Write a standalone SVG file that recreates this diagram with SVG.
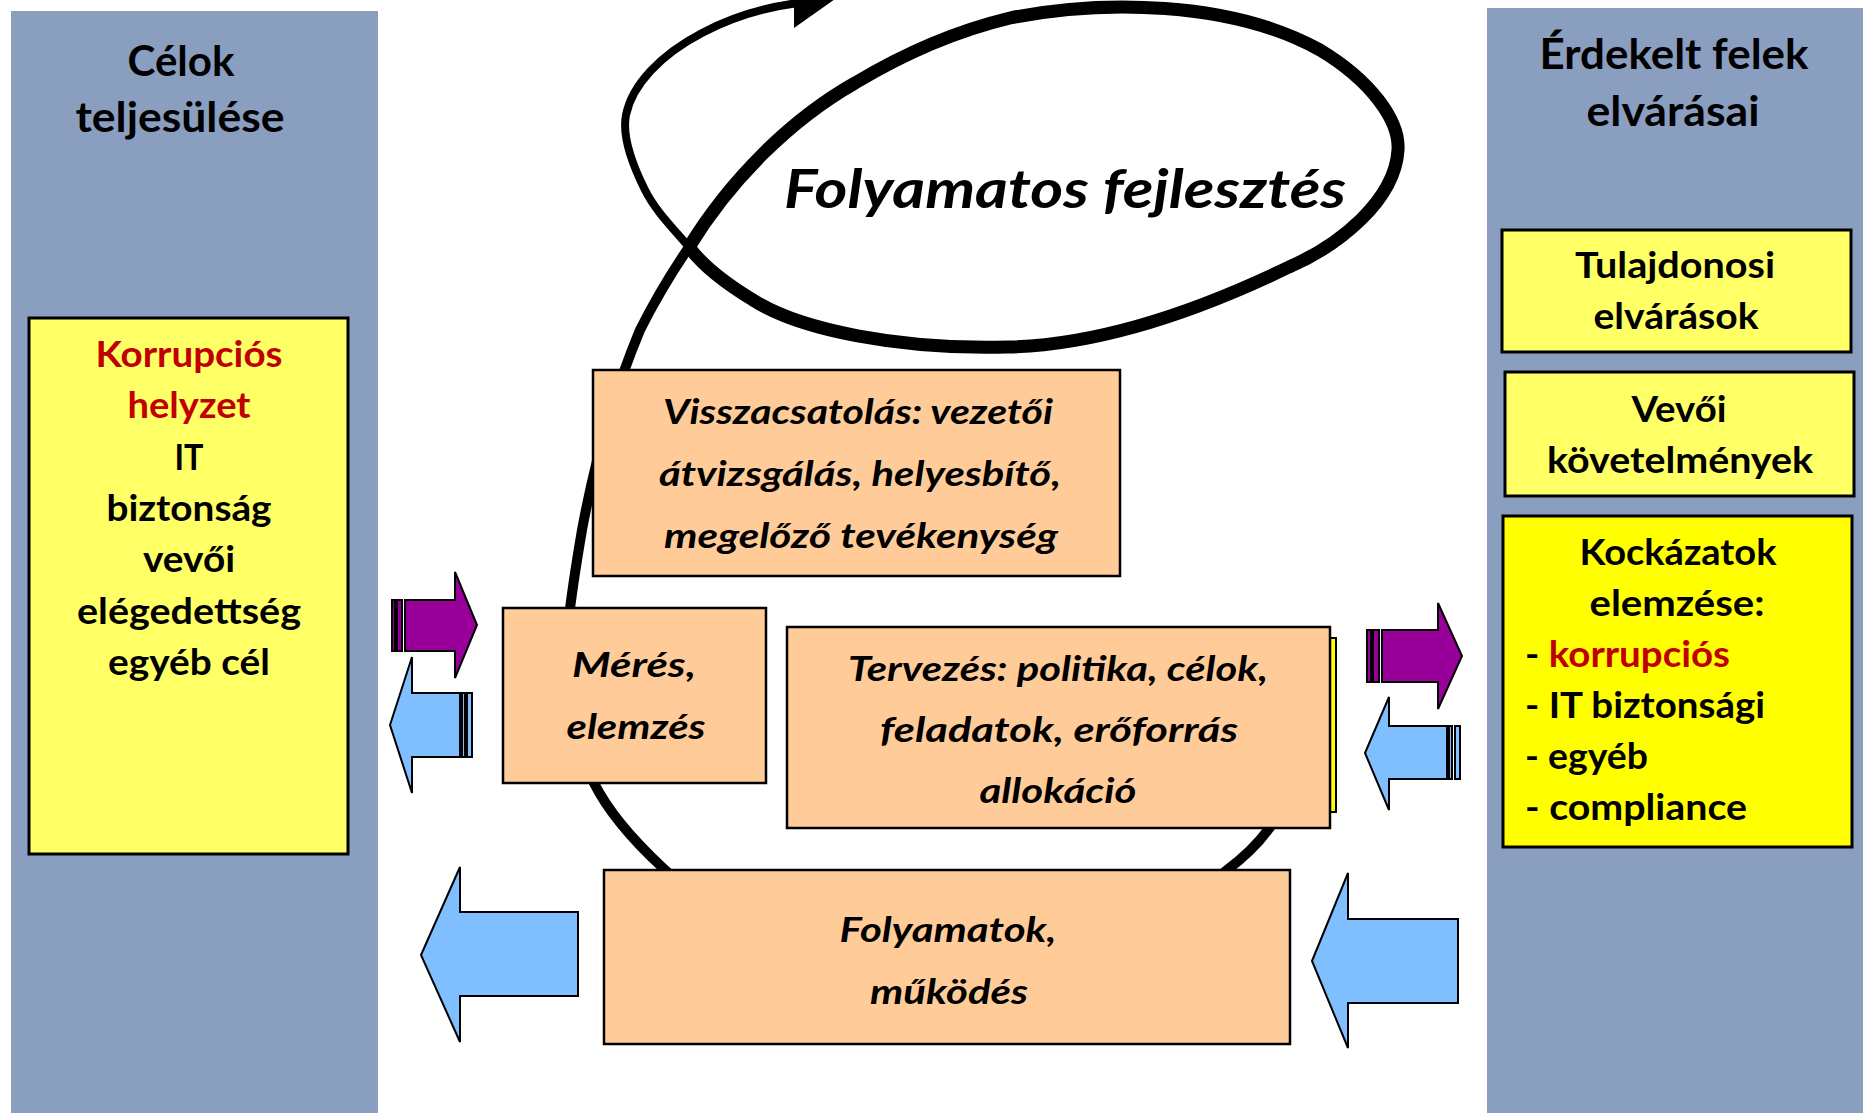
<svg xmlns="http://www.w3.org/2000/svg" width="1863" height="1113" viewBox="0 0 1863 1113">
<style>
.panel{fill:#8A9EC0}
.ybox{fill:#FFFF66;stroke:#000;stroke-width:3}
.ybox2{fill:#FFFF00;stroke:#000;stroke-width:3}
.pbox{fill:#FFCC99;stroke:#000;stroke-width:2.5}
.t{font-family:Lato,'Noto Sans','Liberation Sans',sans-serif;font-weight:700;fill:#000}
.big{font-size:42px}
.body{font-size:37px}
.it{font-style:italic;font-size:35px}
.title{font-style:italic;font-size:54px}
.red{fill:#C00000}
.purple{fill:#990099;stroke:#000;stroke-width:2}
.blue{fill:#80BFFF;stroke:#000;stroke-width:2}
.loop{fill:none;stroke:#000}
</style>
<rect width="1863" height="1113" fill="#fff"/>

<g id="panel-left">
<rect class="panel" x="11" y="11" width="367" height="1102"/>
<text class="t big" x="181" y="76" text-anchor="middle" textLength="107" lengthAdjust="spacingAndGlyphs">Célok</text>
<text class="t big" x="180" y="132" text-anchor="middle" textLength="209" lengthAdjust="spacingAndGlyphs">teljesülése</text>
</g>

<g id="panel-right">
<rect class="panel" x="1487" y="8" width="376" height="1105"/>
<text class="t big" x="1674" y="69" text-anchor="middle" textLength="269" lengthAdjust="spacingAndGlyphs">Érdekelt felek</text>
<text class="t big" x="1673" y="126" text-anchor="middle" textLength="173" lengthAdjust="spacingAndGlyphs">elvárásai</text>
</g>

<g id="connectors">
<path class="loop" stroke-width="10" d="M1306,745 C1298,785 1288,805 1268,830 C1256,846 1243,858 1227,870 C1100,990 790,990 663,868 C636,843 610,815 594,783 C572,740 563,680 568,625 C572,590 576,565 582,530 C595,460 615,390 640,330 C655,300 670,275 689,247"/>
<path class="loop" stroke-width="13" d="M689,247 C730,180 790,120 855,83 C910,50 960,30 1010,18 C1100,0 1230,0 1320,50 C1370,80 1400,120 1398,150 C1395,200 1340,245 1289,267 C1200,310 1100,345 1008,347 C900,350 800,330 753,300 C720,280 700,262 689,247"/>
<path class="loop" stroke-width="8" d="M689,247 C670,225 655,210 645,190 C630,160 622,135 626,115 C632,85 660,55 702,33 C730,18 760,8 798,3"/>
<polygon points="794,-20 794,28 845,-8" fill="#000"/>

<g id="arrow-left-purple">
<rect class="purple" x="392" y="600" width="3" height="51"/>
<rect class="purple" x="397" y="600" width="5" height="51"/>
<polygon class="purple" points="405,600 455,600 455,572 477,625 455,678 455,651 405,651"/>
</g>
<g id="arrow-left-blue">
<polygon class="blue" points="390,725 412,657 412,693 460,693 460,757 412,757 412,793"/>
<rect class="blue" x="462" y="693" width="3" height="64"/>
<rect class="blue" x="467" y="693" width="5" height="64"/>
</g>
<g id="arrow-right-purple">
<rect class="purple" x="1367" y="630" width="4" height="52"/>
<rect class="purple" x="1373" y="630" width="6" height="52"/>
<polygon class="purple" points="1382,630 1438,630 1438,603 1462,656 1438,709 1438,682 1382,682"/>
</g>
<g id="arrow-right-blue">
<polygon class="blue" points="1365,753 1389,697 1389,726 1447,726 1447,779 1389,779 1389,810"/>
<rect class="blue" x="1449" y="726" width="3" height="53"/>
<rect class="blue" x="1455" y="726" width="5" height="53"/>
</g>
<g id="arrow-bottom-left">
<polygon class="blue" points="421,955 460,867 460,912 578,912 578,996 460,996 460,1042"/>
</g>
<g id="arrow-bottom-right">
<polygon class="blue" points="1312,961 1348,873 1348,919 1458,919 1458,1003 1348,1003 1348,1048"/>
</g>
</g>

<g id="title">
<text class="t title" x="1065" y="208" text-anchor="middle" textLength="562" lengthAdjust="spacingAndGlyphs">Folyamatos fejlesztés</text>
</g>

<g id="celok-box">
<rect class="ybox" x="29" y="318" width="319" height="536"/>
<text class="t body red" x="189" y="367" text-anchor="middle" textLength="187" lengthAdjust="spacingAndGlyphs">Korrupciós</text>
<text class="t body red" x="189" y="418" text-anchor="middle" textLength="123" lengthAdjust="spacingAndGlyphs">helyzet</text>
<text class="t body" x="189" y="470" text-anchor="middle" textLength="29" lengthAdjust="spacingAndGlyphs">IT</text>
<text class="t body" x="189" y="521" text-anchor="middle" textLength="165" lengthAdjust="spacingAndGlyphs">biztonság</text>
<text class="t body" x="189" y="572" text-anchor="middle" textLength="92" lengthAdjust="spacingAndGlyphs">vevői</text>
<text class="t body" x="189" y="624" text-anchor="middle" textLength="224" lengthAdjust="spacingAndGlyphs">elégedettség</text>
<text class="t body" x="189" y="675" text-anchor="middle" textLength="162" lengthAdjust="spacingAndGlyphs">egyéb cél</text>
</g>

<g id="tulajdonosi">
<rect class="ybox" x="1502" y="230" width="349" height="122"/>
<text class="t body" x="1675" y="278" text-anchor="middle" textLength="200" lengthAdjust="spacingAndGlyphs">Tulajdonosi</text>
<text class="t body" x="1676" y="329" text-anchor="middle" textLength="165" lengthAdjust="spacingAndGlyphs">elvárások</text>
</g>

<g id="vevoi">
<rect class="ybox" x="1505" y="372" width="349" height="124"/>
<text class="t body" x="1679" y="422" text-anchor="middle" textLength="95" lengthAdjust="spacingAndGlyphs">Vevői</text>
<text class="t body" x="1680" y="473" text-anchor="middle" textLength="266" lengthAdjust="spacingAndGlyphs">követelmények</text>
</g>

<g id="kockazatok">
<rect class="ybox2" x="1503" y="516" width="349" height="331"/>
<text class="t body" x="1678" y="565" text-anchor="middle" textLength="197" lengthAdjust="spacingAndGlyphs">Kockázatok</text>
<text class="t body" x="1677" y="616" text-anchor="middle" textLength="175" lengthAdjust="spacingAndGlyphs">elemzése:</text>
<text class="t body" x="1525" y="667" textLength="205" lengthAdjust="spacingAndGlyphs">- <tspan class="red">korrupciós</tspan></text>
<text class="t body" x="1525" y="718" textLength="240" lengthAdjust="spacingAndGlyphs">- IT biztonsági</text>
<text class="t body" x="1525" y="769" textLength="123" lengthAdjust="spacingAndGlyphs">- egyéb</text>
<text class="t body" x="1525" y="820" textLength="222" lengthAdjust="spacingAndGlyphs">- compliance</text>
</g>

<g id="visszacsatolas">
<rect class="pbox" x="593" y="370" width="527" height="206"/>
<text class="t it" x="858" y="424" text-anchor="middle" textLength="390" lengthAdjust="spacingAndGlyphs">Visszacsatolás: vezetői</text>
<text class="t it" x="860" y="486" text-anchor="middle" textLength="402" lengthAdjust="spacingAndGlyphs">átvizsgálás, helyesbítő,</text>
<text class="t it" x="861" y="548" text-anchor="middle" textLength="394" lengthAdjust="spacingAndGlyphs">megelőző tevékenység</text>
</g>

<g id="meres">
<rect class="pbox" x="503" y="608" width="263" height="175"/>
<text class="t it" x="634" y="677" text-anchor="middle" textLength="124" lengthAdjust="spacingAndGlyphs">Mérés,</text>
<text class="t it" x="636" y="739" text-anchor="middle" textLength="139" lengthAdjust="spacingAndGlyphs">elemzés</text>
</g>

<g id="tervezes">
<rect x="1320" y="638" width="16" height="174" fill="#FFFF00" stroke="#000" stroke-width="2"/>
<rect class="pbox" x="787" y="627" width="543" height="201"/>
<text class="t it" x="1058" y="681" text-anchor="middle" textLength="420" lengthAdjust="spacingAndGlyphs">Tervezés: politika, célok,</text>
<text class="t it" x="1059" y="742" text-anchor="middle" textLength="358" lengthAdjust="spacingAndGlyphs">feladatok, erőforrás</text>
<text class="t it" x="1058" y="803" text-anchor="middle" textLength="157" lengthAdjust="spacingAndGlyphs">allokáció</text>
</g>

<g id="folyamatok">
<rect class="pbox" x="604" y="870" width="686" height="174"/>
<text class="t it" x="948" y="942" text-anchor="middle" textLength="217" lengthAdjust="spacingAndGlyphs">Folyamatok,</text>
<text class="t it" x="949" y="1004" text-anchor="middle" textLength="158" lengthAdjust="spacingAndGlyphs">működés</text>
</g>
</svg>
